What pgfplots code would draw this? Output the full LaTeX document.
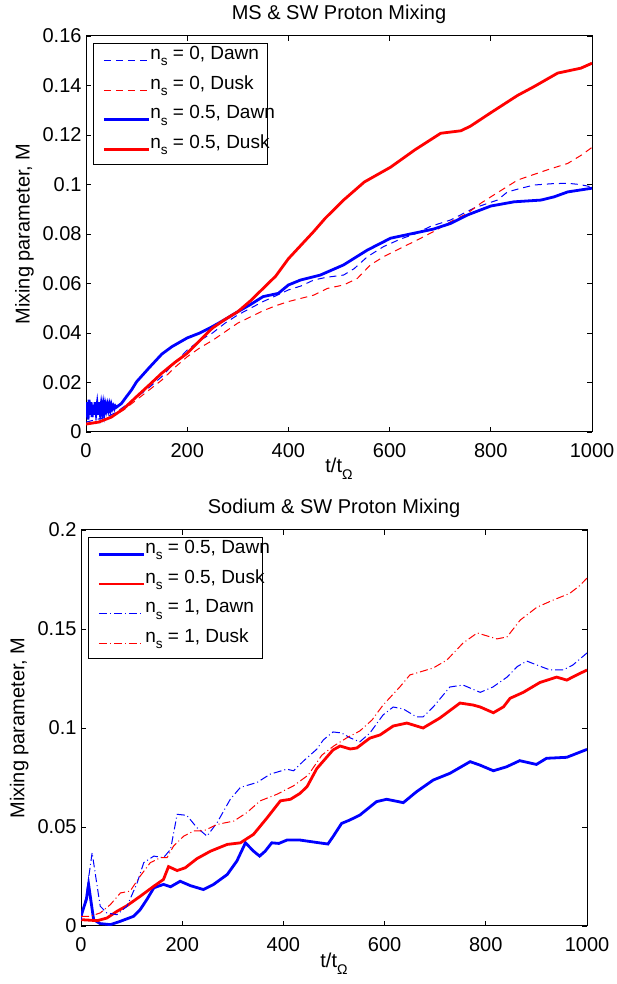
\documentclass[border=0pt]{standalone}
\usepackage{fontspec}
\setmainfont{Liberation Sans}
\usepackage{pgfplots}
\pgfplotsset{compat=1.18}
\newcommand\sub[1]{\raisebox{-3.5pt}{\fontsize{7}{7}\selectfont #1}}
\newcommand\lsub[1]{\raisebox{-3.2pt}{\fontsize{6.8}{7}\selectfont #1}}
\newcommand\lt[1]{\makebox[54pt][l]{#1}}
\definecolor{mblue}{rgb}{0,0,1}
\definecolor{mred}{rgb}{1,0,0}
\pgfplotsset{
 mystyle/.style={
  scale only axis, width=253pt, height=198pt,
  xmin=0, xmax=1000,
  xtick={0,200,400,600,800,1000}, xticklabels={0,200,400,600,800,1000},
  tick align=inside, major tick length=2.5pt,
  axis line style={line width=0.5pt},
  every tick/.style={black, line width=0.4pt},
  font=\fontsize{10}{12}\selectfont,
  tick label style={font=\fontsize{10}{12}\selectfont},
  xticklabel style={yshift=-2.2pt}, yticklabel style={xshift=1.3pt},
  xlabel={t/t\sub{Ω}},
  xlabel style={at={(axis description cs:0.5,0)}, anchor=base, yshift=-20.5pt},
  ylabel={Mixing parameter, M},
  ylabel style={at={(axis description cs:-0.0895,0.5)}, anchor=south},
  every axis title/.style={at={(axis description cs:0.5,1)}, anchor=base, yshift=8pt, font=\fontsize{10}{12}\selectfont},
  legend style={at={(axis description cs:0,1)}, anchor=north west, xshift=3.5pt, yshift=-3.5pt,
    draw=black, line width=0.5pt, inner xsep=4.5pt, inner ysep=2.5pt, row sep=3.8pt,
    nodes={inner sep=0pt, text height=5.5pt, text depth=5.5pt},
    font=\fontsize{9.5}{11}\selectfont,
    /tikz/every even column/.append style={column sep=2.5pt}},
  legend cell align=left,
  legend image code/.code={\draw[#1] (0pt,-0.5pt) -- (22.5pt,-0.5pt);},
 },
 mthin/.style={line width=0.5pt},
 mthick/.style={line width=1.4pt},
}
\begin{document}
\begin{tikzpicture}
\useasboundingbox (0,0) rectangle (308pt,492pt);
% ---------------- top ----------------
\begin{axis}[mystyle, at={(43pt,276pt)}, anchor=south west,
  ymin=0, ymax=0.16,
  ytick={0,0.02,0.04,0.06,0.08,0.1,0.12,0.14,0.16},
  yticklabels={0,0.02,0.04,0.06,0.08,0.1,0.12,0.14,0.16},
  title={MS \& SW Proton Mixing}]
\addplot[draw=mblue, color=mblue, mthin, dash pattern=on 3.5pt off 2.5pt] coordinates {
(0,0.004) (20,0.005) (40,0.006) (60,0.008) (80,0.011) (100,0.014) (125,0.018) (150,0.0224) (175,0.028) (200,0.0331) (225,0.037) (250,0.040) (275,0.044) (300,0.0473) (325,0.050) (350,0.0527) (375,0.055) (400,0.0574) (425,0.059) (450,0.0614) (475,0.0625) (509,0.0634) (530,0.066) (556,0.0708) (588,0.0749) (622,0.078) (650,0.080) (680,0.083) (721,0.0857) (767,0.0905) (813,0.0937) (833,0.097) (860,0.0985) (886,0.0998) (920,0.1003) (952,0.1005) (975,0.1) (1000,0.099)};
\addlegendentry{\lt{n\lsub{s} = 0, Dawn}}
\addplot[draw=mred, color=mred, mthin, dash pattern=on 3.5pt off 2.5pt] coordinates {
(0,0.003) (25,0.004) (50,0.006) (75,0.009) (100,0.013) (125,0.017) (150,0.021) (175,0.026) (200,0.0304) (225,0.034) (250,0.037) (275,0.0405) (300,0.044) (325,0.0465) (350,0.049) (375,0.051) (400,0.0527) (425,0.054) (450,0.0553) (477,0.058) (509,0.0594) (536,0.062) (562,0.0675) (588,0.0708) (622,0.0743) (655,0.0776) (687,0.081) (721,0.085) (754,0.0884) (780,0.0924) (800,0.095) (853,0.1018) (913,0.106) (952,0.1085) (980,0.112) (1000,0.115)};
\addlegendentry{\lt{n\lsub{s} = 0, Dusk}}
\addplot[draw=mblue, color=mblue, mthick] coordinates {
(0,0.006) (2,0.012) (4,0.005) (6,0.013) (8,0.007) (10,0.012) (12,0.006) (14,0.011) (16,0.007) (18,0.012) (20,0.008) (22,0.011) (24,0.007) (26,0.012) (28,0.008) (30,0.011) (32,0.008) (34,0.011) (36,0.008) (38,0.011) (40,0.009) (42,0.011) (44,0.009) (46,0.011) (48,0.009) (50,0.011) (52,0.0095) (54,0.0105) (56,0.0095) (58,0.0105) (60,0.010)
(70,0.0115) (80,0.0143) (90,0.017) (100,0.0203) (125,0.026) (150,0.0315) (170,0.0345) (200,0.038) (225,0.040) (250,0.0426) (275,0.0455) (300,0.0486) (325,0.0515) (350,0.0547) (380,0.056) (400,0.0594) (424,0.0614) (463,0.0634) (509,0.0675) (556,0.0735) (602,0.0783) (641,0.080) (687,0.082) (721,0.0843) (754,0.0877) (800,0.0913) (846,0.093) (899,0.0937) (925,0.095) (952,0.097) (1000,0.0985)};
\addlegendentry{\lt{n\lsub{s} = 0.5, Dawn}}
\addplot[draw=mred, color=mred, mthick] coordinates {
(0,0.0032) (25,0.004) (50,0.006) (75,0.0095) (100,0.0143) (125,0.019) (150,0.0238) (175,0.028) (200,0.0318) (225,0.037) (250,0.042) (275,0.0455) (300,0.0486) (325,0.053) (350,0.058) (375,0.063) (400,0.070) (425,0.0755) (450,0.081) (473,0.0864) (509,0.0937) (550,0.101) (602,0.107) (650,0.114) (701,0.1207) (741,0.1217) (760,0.1236) (800,0.129) (853,0.136) (885,0.1395) (932,0.145) (978,0.147) (1000,0.149)};
\addlegendentry{\lt{n\lsub{s} = 0.5, Dusk}}
\end{axis}
% ---------------- bottom ----------------
\begin{axis}[mystyle, at={(40.5pt,29pt)}, anchor=south west,
  ymin=0, ymax=0.2,
  ytick={0,0.05,0.1,0.15,0.2},
  yticklabels={0,0.05,0.1,0.15,0.2},
  title={Sodium \& SW Proton Mixing}]
\addplot[draw=mblue, color=mblue, mthick] coordinates {
(0,0.0049) (5,0.009) (10.5,0.0133) (15,0.021) (20,0.012) (25,0.0032) (38,0.0012) (58,0.0007) (78,0.0024) (104,0.0049) (117,0.0083) (130,0.0133) (144,0.0193) (163,0.021) (177,0.0198) (196,0.0226) (216,0.0204) (242,0.0184) (262,0.021) (289,0.026) (308,0.0328) (325,0.042) (341,0.0378) (353,0.0353) (364,0.0378) (377,0.042) (391,0.0417) (407,0.0434) (433,0.0434) (460,0.0424) (488,0.0414) (498,0.0451) (515,0.0518) (531,0.0535) (551,0.056) (584,0.0628) (604,0.064) (637,0.0623) (663,0.0678) (696,0.0737) (729,0.0771) (769,0.083) (788,0.0813) (815,0.0784) (841,0.0804) (867,0.0835) (900,0.0816) (920,0.0847) (960,0.0852) (1000,0.0892)};
\addlegendentry{\lt{n\lsub{s} = 0.5, Dawn}}
\addplot[draw=mred, color=mred, mthick] coordinates {
(0,0.0032) (32,0.0027) (51,0.004) (71,0.0074) (91,0.0103) (117,0.015) (144,0.0201) (163,0.0235) (173,0.030) (190,0.028) (206,0.0294) (229,0.034) (256,0.0378) (289,0.0412) (315,0.042) (341,0.0463) (368,0.0547) (394,0.0632) (414,0.064) (433,0.067) (447,0.0705) (466,0.0795) (498,0.0889) (512,0.0909) (532,0.0894) (545,0.0899) (571,0.0949) (591,0.0965) (617,0.101) (644,0.1025) (676,0.100) (709,0.105) (749,0.1126) (775,0.1116) (789,0.1106) (815,0.1077) (835,0.1107) (848,0.115) (874,0.118) (907,0.123) (940,0.1257) (960,0.1242) (980,0.1268) (1000,0.1293)};
\addlegendentry{\lt{n\lsub{s} = 0.5, Dusk}}
\addplot[draw=mblue, color=mblue, mthin, dash pattern=on 4pt off 1.5pt on 0.5pt off 1.5pt] coordinates {
(0,0.003) (10,0.015) (22,0.037) (32,0.020) (38,0.010) (51,0.0066) (71,0.0057) (91,0.010) (111,0.0218) (124,0.032) (144,0.0353) (163,0.0345) (177,0.0387) (190,0.0564) (209,0.0559) (229,0.0497) (249,0.0454) (269,0.0522) (295,0.064) (315,0.070) (348,0.0725) (374,0.0767) (407,0.0792) (420,0.0784) (440,0.0834) (466,0.0893) (479,0.094) (498,0.098) (515,0.0975) (532,0.095) (551,0.093) (571,0.0975) (597,0.1066) (617,0.1106) (637,0.1096) (663,0.1056) (676,0.1056) (696,0.1106) (729,0.1207) (755,0.1217) (789,0.118) (814,0.1207) (842,0.1257) (862,0.131) (881,0.1338) (901,0.1318) (927,0.1293) (953,0.1293) (972,0.1318) (1000,0.1379)};
\addlegendentry{\lt{n\lsub{s} = 1, Dawn}}
\addplot[draw=mred, color=mred, mthin, dash pattern=on 4pt off 1.5pt on 0.5pt off 1.5pt] coordinates {
(0,0.0049) (18,0.0049) (38,0.0066) (58,0.0108) (78,0.0167) (97,0.0176) (117,0.0252) (137,0.032) (157,0.0345) (170,0.0345) (183,0.0404) (203,0.0454) (223,0.048) (242,0.048) (269,0.0513) (302,0.053) (328,0.0573) (354,0.0632) (387,0.0665) (420,0.0708) (449,0.0762) (476,0.0863) (500,0.091) (525,0.095) (551,0.0985) (575,0.104) (597,0.1116) (630,0.1207) (650,0.1268) (670,0.1283) (696,0.1303) (723,0.1343) (755,0.1429) (783,0.148) (822,0.145) (842,0.146) (868,0.1545) (901,0.161) (933,0.1646) (966,0.168) (986,0.172) (1000,0.1757)};
\addlegendentry{\lt{n\lsub{s} = 1, Dusk}}
\end{axis}
\end{tikzpicture}
\end{document}
